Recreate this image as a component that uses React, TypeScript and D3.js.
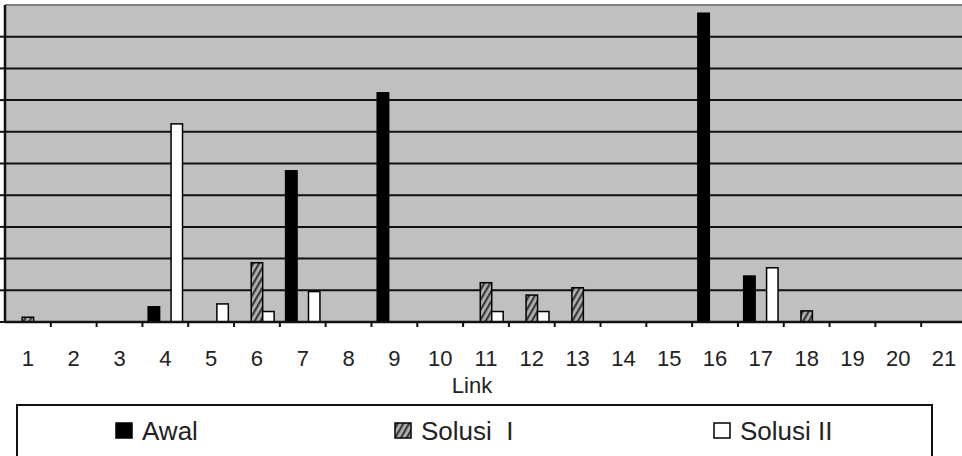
import React from "react";
import * as d3 from "d3";

const categories = ["1","2","3","4","5","6","7","8","9","10","11","12","13","14","15","16","17","18","19","20","21"];
const awal =    [0, 0, 0, 0.48, 0, 0, 4.77, 0, 7.23, 0, 0, 0, 0, 0, 0, 9.74, 1.45, 0, 0, 0, 0];
const solusi1 = [0.15, 0, 0, 0, 0, 1.87, 0, 0, 0, 0, 1.24, 0.85, 1.08, 0, 0, 0, 0, 0.35, 0, 0, 0];
const solusi2 = [0, 0, 0, 6.25, 0.57, 0.33, 0.96, 0, 0, 0, 0.33, 0.33, 0, 0, 0, 0, 1.71, 0, 0, 0, 0];
const seriesNames = ["Awal", "Solusi  I", "Solusi II"];
const yTicks = [0, 1, 2, 3, 4, 5, 6, 7, 8, 9, 10];

const W = 962, H = 456;
const left = 5, top = 5, bottom = 322, right = 967;

export default function App() {
  const x = d3.scaleBand<string>().domain(categories).range([left, right]).paddingInner(0.25).paddingOuter(0.125);
  const xs = d3.scaleBand<string>().domain(seriesNames).range([0, x.bandwidth()]).padding(0);
  const y = d3.scaleLinear().domain([0, 10]).range([bottom, top]);
  const step = x.step();
  const series = [awal, solusi1, solusi2];
  const fills = ["#000000", "url(#hatch)", "#ffffff"];
  const font = "'Liberation Sans', Arial, sans-serif";
  const legendX = [116, 395, 714];

  return (
    <svg width={W} height={H} style={{ position: "absolute", left: 0, top: 0, background: "#fff" }}>
      <defs>
        <pattern id="hatch" patternUnits="userSpaceOnUse" width="5" height="5" patternTransform="rotate(30)">
          <rect width="5" height="5" fill="#b0b0b0" />
          <rect width="2.2" height="5" fill="#3a3a3a" />
        </pattern>
      </defs>
      <rect x={left} y={top} width={right - left} height={bottom - top} fill="#c0c0c0" />
      <line x1={left} x2={right} y1={top} y2={top} stroke="#808080" strokeWidth={2} />
      {yTicks.slice(1, -1).map((t) => (
        <line key={t} x1={left} x2={right} y1={y(t)} y2={y(t)} stroke="#111" strokeWidth={2} />
      ))}
      {yTicks.slice(0, -1).map((t) => (
        <line key={"lt" + t} x1={0} x2={left} y1={y(t)} y2={y(t)} stroke="#111" strokeWidth={2} />
      ))}
      {series.map((vals, si) =>
        vals.map((v, i) =>
          v > 0 ? (
            <rect
              key={si + "-" + i}
              x={(x(categories[i]) as number) + (xs(seriesNames[si]) as number)}
              y={y(v)}
              width={xs.bandwidth()}
              height={y(0) - y(v)}
              fill={fills[si]}
              stroke="#000"
              strokeWidth={1.5}
            />
          ) : null
        )
      )}
      <line x1={left} x2={left} y1={top} y2={bottom + 1} stroke="#111" strokeWidth={2.5} />
      <line x1={left} x2={right} y1={bottom} y2={bottom} stroke="#111" strokeWidth={2.5} />
      {categories.map((c, i) => (
        <line key={"t" + c} x1={left + (i + 1) * step} x2={left + (i + 1) * step} y1={bottom} y2={bottom + 5} stroke="#111" strokeWidth={2} />
      ))}
      {categories.map((c) => (
        <text key={"l" + c} x={(x(c) as number) + x.bandwidth() / 2} y={366} textAnchor="middle" fontFamily={font} fontSize={22} fill="#222">
          {c}
        </text>
      ))}
      <text x={472} y={393} textAnchor="middle" fontFamily={font} fontSize={22} fill="#222">Link</text>
      <rect x={17} y={405} width={915} height={80} fill="#fff" stroke="#111" strokeWidth={2} />
      {seriesNames.map((n, si) => (
        <g key={n}>
          <rect x={legendX[si]} y={423} width={16} height={15} fill={fills[si]} stroke="#000" strokeWidth={1.5} />
          <text x={legendX[si] + 26} y={440} fontFamily={font} fontSize={26} fill="#222" style={{ whiteSpace: "pre" }}>
            {n}
          </text>
        </g>
      ))}
    </svg>
  );
}
